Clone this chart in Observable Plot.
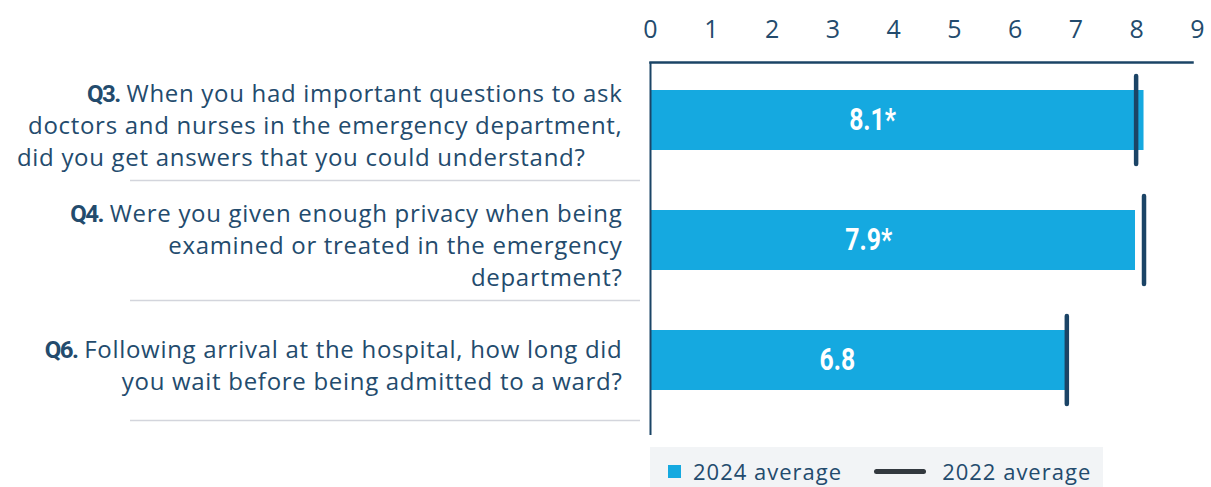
<!DOCTYPE html>
<html><head><meta charset="utf-8">
<script src="https://cdn.jsdelivr.net/npm/d3@7"></script>
<script src="https://cdn.jsdelivr.net/npm/@observablehq/plot@0.6"></script>
<style>
body{margin:0;background:#fff;font-family:"Open Sans",sans-serif;}
#wrap{position:relative;width:1211px;height:487px;overflow:hidden;background:#fff}
#chart svg{display:block}
#legend{position:absolute;left:650px;top:447px;width:453px;height:48px;background:#f2f4f6;display:flex;align-items:center;font-size:22px;letter-spacing:1px;color:#234b6d;box-sizing:border-box;padding-left:18px}
#legend .sw{width:13px;height:13px;background:#15a9e0;margin-right:12px}
#legend .ln{width:52px;height:5px;border-radius:3px;background:#33393f;margin-left:32px;margin-right:16px}
</style></head>
<body><div id="wrap"><div id="chart"></div>
<div id="legend"><span class="sw"></span><span>2024 average</span><span class="ln"></span><span>2022 average</span></div></div>
<script>
const questions = ["Q3", "Q4", "Q6"];
const prefixes = ["Q3.", "Q4.", "Q6."];
const questionText = [
  ["When you had important questions to ask", "doctors and nurses in the emergency department,", "did you get answers that you could understand?"],
  ["Were you given enough privacy when being", "examined or treated in the emergency", "department?"],
  ["Following arrival at the hospital, how long did", "you wait before being admitted to a ward?"]
];
const avg2024 = [8.12, 7.98, 6.83];
const avg2022 = [7.99, 8.12, 6.85];
const barLabels = ["8.1*", "7.9*", "6.8"];
const xTicks = [0, 1, 2, 3, 4, 5, 6, 7, 8, 9];

const rows = questions.map((q, i) => ({q, prefix: prefixes[i], lines: questionText[i], v24: avg2024[i], v22: avg2022[i], label: barLabels[i]}));
const byQ = new Map(rows.map(r => [r.q, r]));
const ink = "#234b6d";
const navy = "#1b4466";
const boldFont = 'Roboto, sans-serif';

const plot = Plot.plot({
  width: 1211, height: 440,
  marginLeft: 650, marginRight: 19, marginTop: 62, marginBottom: 5,
  style: {fontFamily: '"Open Sans", sans-serif', color: ink, background: "#fff"},
  x: {domain: [0, 9], range: [650, 1197]},
  y: {domain: questions, range: [60, 420], paddingInner: 0.5, paddingOuter: 0.25},
  marks: [
    Plot.axisX(xTicks, {anchor: "top", tickSize: 0, tickPadding: 25, fontSize: 25, fill: ink, label: null, tickFormat: d => String(d)}),
    Plot.axisY({anchor: "left", tickSize: 0, tickPadding: 28, fontSize: 24, fill: ink, lineHeight: 1.33, dy: 3, label: null,
      tickFormat: q => byQ.get(q).prefix + " " + byQ.get(q).lines.join("\n")}),
    Plot.ruleY(rows, {y: "q", dy: 60, insetLeft: -520, insetRight: 552, stroke: "#d3d5dc", strokeWidth: 1.5}),
    Plot.barX(rows, {x: "v24", y: "q", fill: "#15a9e0"}),
    Plot.tickX(rows, {x: "v22", y: "q", stroke: navy, strokeWidth: 4.5, strokeLinecap: "round", insetTop: -14, insetBottom: -14}),
    Plot.text(rows, {x: d => d.v24 * 0.45, y: "q", text: "label", fill: "white", fontSize: 31, fontWeight: "bold", fontFamily: boldFont}),
    Plot.ruleX([0], {stroke: navy, strokeWidth: 2}),
    Plot.frame({anchor: "top", stroke: navy, strokeWidth: 2.5})
  ]
});
document.getElementById("chart").appendChild(plot);

function condense(el, k) {
  const w = el.getComputedTextLength();
  el.setAttribute("textLength", (w * k).toFixed(1));
  el.setAttribute("lengthAdjust", "spacingAndGlyphs");
}

// y-axis labels: letter spacing and bold, tight question numbers
d3.select(plot).selectAll('g[aria-label="y-axis tick label"] text').each(function (d, i) {
  this.setAttribute("letter-spacing", "0.7");
  const spans = this.querySelectorAll("tspan");
  const first = spans[0] || this;
  const txt = first.textContent;
  const sp = txt.indexOf(" ");
  const pre = txt.slice(0, sp), rest = txt.slice(sp);
  first.textContent = "";
  const b = document.createElementNS("http://www.w3.org/2000/svg", "tspan");
  b.setAttribute("font-weight", "bold");
  b.setAttribute("font-family", boldFont);
  b.setAttribute("letter-spacing", "-1.6");
  b.textContent = pre;
  first.appendChild(b);
  first.appendChild(document.createTextNode(rest));
  // the last line of the first question sits slightly left of the others in the reference
  if (i === 0 && spans.length === 3) spans[2].setAttribute("dx", "-37");
});
// bar value labels: condensed look
d3.select(plot).selectAll('g[aria-label="text"] text').each(function () { condense(this, 0.8); });
</script></body></html>
